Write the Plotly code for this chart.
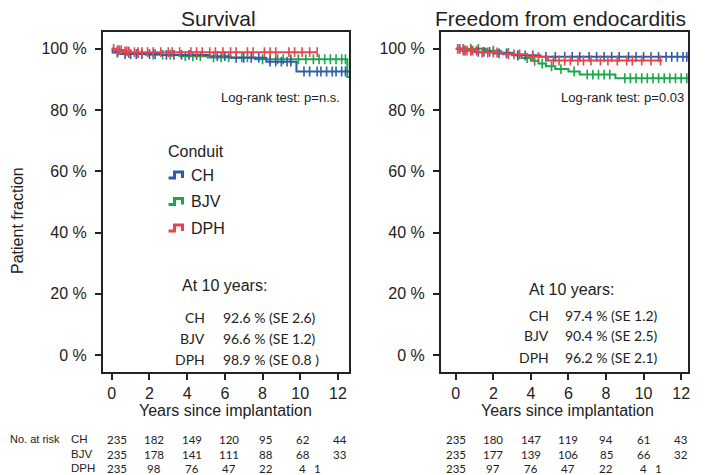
import plotly.graph_objects as go

# ---- data ----
groups = ["CH", "BJV", "DPH"]
colors = {"CH": "#2f5caa", "BJV": "#1aa64b", "DPH": "#e8444e"}

# survival: step times and level after each step (%), last censor / end time
surv_CH_t = [0, 0.05, 0.4, 2.6, 5.2, 6.3, 8.2, 9.8]
surv_CH_s = [100, 98.8, 98.3, 98.0, 97.6, 97.1, 95.8, 92.6]
surv_CH_end = 12.6
surv_BJV_t = [0, 0.05, 0.6, 1.8, 3.6, 5.1, 7.6, 12.5]
surv_BJV_s = [100, 99.2, 98.6, 98.1, 97.6, 97.2, 96.6, 90.8]
surv_BJV_end = 12.6
surv_DPH_t = [0, 0.2, 0.6, 1.0]
surv_DPH_s = [100, 99.6, 99.2, 98.9]
surv_DPH_end = 10.9

surv_CH_cens = [0.3, 0.7, 1.0, 1.3, 1.6, 2.0, 2.3, 2.9, 3.3, 3.7, 4.1, 4.5, 5.6, 6.0, 6.6, 7.0, 7.4, 7.8,
                8.4, 8.7, 9.0, 9.3, 9.5, 10.2, 10.5, 10.9, 11.1, 11.4, 11.7, 11.9, 12.2, 12.4]
surv_BJV_cens = [0.3, 0.9, 1.4, 2.2, 2.7, 3.1, 3.9, 4.3, 4.7, 5.4, 5.8, 6.2, 6.9, 7.2, 8.0, 8.4, 8.8, 9.1,
                 9.5, 9.9, 10.3, 10.7, 11.0, 11.3, 11.6, 11.9, 12.2, 12.4]
surv_DPH_cens = [0.1, 0.3, 0.4, 0.5, 0.7, 0.8, 0.9, 1.2, 1.4, 1.6, 1.9, 2.2, 2.6, 3.0, 3.2, 3.6, 4.2, 4.5,
                 4.8, 5.2, 5.5, 5.9, 6.3, 6.6, 7.2, 7.5, 8.1, 8.4, 8.7, 9.4, 9.7, 10.1, 10.5, 10.9]

# freedom from endocarditis
endo_CH_t = [0, 0.3, 1.0, 2.0, 3.0, 4.5]
endo_CH_s = [100, 99.5, 99.0, 98.5, 97.9, 97.4]
endo_CH_end = 12.4
endo_BJV_t = [0, 1.6, 2.4, 3.1, 3.5, 4.0, 4.4, 4.8, 5.3, 6.0, 6.6, 8.5]
endo_BJV_s = [100, 99.4, 98.7, 97.9, 97.0, 96.1, 95.2, 94.3, 93.4, 92.6, 91.6, 90.4]
endo_BJV_end = 12.4
endo_DPH_t = [0, 0.3, 1.2, 2.5, 3.8, 4.9]
endo_DPH_s = [100, 99.4, 98.8, 98.2, 97.4, 96.2]
endo_DPH_end = 11.0

endo_CH_cens = [0.2, 0.5, 0.8, 1.2, 1.5, 1.8, 2.3, 2.7, 3.3, 3.7, 4.1, 4.8, 5.3, 5.8, 6.2, 6.6, 7.1, 7.5,
                7.9, 8.3, 8.7, 9.2, 9.6, 10.0, 10.4, 10.8, 11.2, 11.5, 11.8, 12.1, 12.3]
endo_BJV_cens = [0.4, 0.8, 1.2, 2.0, 2.8, 3.3, 3.8, 4.2, 4.6, 5.1, 5.6, 6.3, 7.0, 7.3, 7.6, 7.9, 8.2,
                 9.0, 9.3, 9.6, 9.9, 10.2, 10.5, 10.8, 11.1, 11.4, 11.7, 12.0, 12.3]
endo_DPH_cens = [0.1, 0.2, 0.4, 0.5, 0.6, 0.8, 0.9, 1.1, 1.4, 1.7, 2.0, 2.2, 2.8, 3.1, 3.4, 4.1, 4.4,
                 5.2, 5.5, 5.8, 6.1, 6.5, 6.8, 7.2, 7.7, 8.1, 8.6, 9.1, 9.4, 9.9, 10.4, 10.9]

at10_surv = {"CH": "92.6 % (SE 2.6)", "BJV": "96.6 % (SE 1.2)", "DPH": "98.9 % (SE 0.8 )"}
at10_endo = {"CH": "97.4 % (SE 1.2)", "BJV": "90.4 % (SE 2.5)", "DPH": "96.2 % (SE 2.1)"}

risk_times = [0, 2, 4, 6, 8, 10, 12]
risk_surv = {"CH": [235, 182, 149, 120, 95, 62, 44],
             "BJV": [235, 178, 141, 111, 88, 68, 33],
             "DPH": [235, 98, 76, 47, 22, 4, 1]}
risk_endo = {"CH": [235, 180, 147, 119, 94, 61, 43],
             "BJV": [235, 177, 139, 106, 85, 66, 32],
             "DPH": [235, 97, 76, 47, 22, 4, 1]}

panels = [
    dict(xa="x", ya="y", rx="x3", title="Survival", logrank="Log-rank test: p=n.s.",
         curves={"CH": (surv_CH_t, surv_CH_s, surv_CH_end, surv_CH_cens),
                 "BJV": (surv_BJV_t, surv_BJV_s, surv_BJV_end, surv_BJV_cens),
                 "DPH": (surv_DPH_t, surv_DPH_s, surv_DPH_end, surv_DPH_cens)},
         at10=at10_surv, risk=risk_surv),
    dict(xa="x2", ya="y2", rx="x2", title="Freedom from endocarditis", logrank="Log-rank test: p=0.03",
         curves={"CH": (endo_CH_t, endo_CH_s, endo_CH_end, endo_CH_cens),
                 "BJV": (endo_BJV_t, endo_BJV_s, endo_BJV_end, endo_BJV_cens),
                 "DPH": (endo_DPH_t, endo_DPH_s, endo_DPH_end, endo_DPH_cens)},
         at10=at10_endo, risk=risk_endo),
]

# page has an 8px body margin, so the figure is drawn 8px in from the corner
OFF = 8
W, H = 714 - OFF, 475 - OFF
def px(x): return (x - OFF) / W
def py(y): return 1 - (y - OFF) / H

def level_at(ts, ss, t):
    v = ss[0]
    for a, b in zip(ts, ss):
        if a <= t:
            v = b
    return v

fig = go.Figure()
FONT = "Liberation Sans, Arial, sans-serif"
NUMFONT = "Lato, sans-serif"

for p in panels:
    for g in ["BJV", "CH", "DPH"]:
        ts, ss, end, cens = p["curves"][g]
        fig.add_trace(go.Scatter(x=ts + [end], y=ss + [ss[-1]], mode="lines",
                                 line=dict(color=colors[g], width=2, shape="hv"),
                                 xaxis=p["xa"], yaxis=p["ya"], showlegend=False, hoverinfo="skip"))
        fig.add_trace(go.Scatter(x=cens, y=[level_at(ts, ss, c) for c in cens], mode="markers",
                                 marker=dict(symbol="line-ns", size=7,
                                             line=dict(color=colors[g], width=1.6)),
                                 xaxis=p["xa"], yaxis=p["ya"], showlegend=False, hoverinfo="skip"))

axis_common = dict(showline=True, mirror=True, linecolor="#222", linewidth=1.5,
                   ticks="outside", ticklen=6, tickwidth=1.5, tickcolor="#222",
                   showgrid=False, zeroline=False, tickfont=dict(family=FONT, size=16, color="#222"))
yvals = [0, 20, 40, 60, 80, 100]
ytext = [f"{v} %" for v in yvals]
ydom = [py(372), py(32)]

fig.update_layout(
    width=W, height=H, margin=dict(l=0, r=0, t=0, b=0),
    paper_bgcolor="white", plot_bgcolor="white", showlegend=False,
    xaxis=dict(domain=[px(103), px(350)], range=[-0.48, 12.59], tickvals=risk_times,
               anchor="y", **axis_common),
    yaxis=dict(domain=ydom, range=[-5.5, 105.5], tickvals=yvals, ticktext=ytext,
               anchor="x", ticklabelstandoff=5, **axis_common),
    xaxis2=dict(domain=[px(442), px(690)], range=[-0.8, 12.37], tickvals=risk_times,
                anchor="y2", **axis_common),
    yaxis2=dict(domain=ydom, range=[-5.5, 105.5], tickvals=yvals, ticktext=ytext,
                anchor="x2", ticklabelstandoff=5, **axis_common),
    # hidden scale for the left "No. at risk" columns
    xaxis3=dict(domain=[px(80), px(350)], range=[-0.79, 12.49], visible=False,
                anchor="y", overlaying="x"),
)

ann = []
shapes = []
txt = "#222"

def note(text, x, y, size, xanchor="center", family=FONT, **kw):
    ann.append(dict(text=text, x=px(x), y=py(y), xref="paper", yref="paper", xanchor=xanchor,
                    yanchor="middle", showarrow=False, font=dict(family=family, size=size, color=txt), **kw))

# titles, axis titles
for p, cx in zip(panels, [219, 562]):
    note(p["title"], cx, 19, 21)
for cx in [226, 569]:
    note("Years since implantation", cx, 410, 16)
note("Patient fraction", 17, 220, 16, textangle=-90)
# log-rank
for p, rx in zip(panels, [343, 688]):
    note(p["logrank"], rx, 97, 13, xanchor="right")

# legend
note("Conduit", 166, 151, 16, xanchor="left")
for i, g in enumerate(groups):
    yc = 175 + i * 26.5
    note(g, 190, yc, 16, xanchor="left")
    x0 = 169
    path = (f"M {px(x0)},{py(yc + 3)} L {px(x0 + 6)},{py(yc + 3)} L {px(x0 + 6)},{py(yc - 3)} "
            f"L {px(x0 + 14)},{py(yc - 3)} L {px(x0 + 14)},{py(yc + 3)}")
    shapes.append(dict(type="path", path=path, xref="paper", yref="paper",
                       line=dict(color=colors[g], width=3)))

# at 10 years
for p, (hx, lx, vx, y0, ys) in zip(panels, [(180, 208, 222, 285, [317, 338, 359]),
                                           (528, 553, 565, 289, [315, 335, 357])]):
    note("At 10 years:", hx, y0, 16, xanchor="left")
    for g, yy in zip(groups, ys):
        note(g, lx, yy, 14, xanchor="right", family=NUMFONT)
        note(p["at10"][g], vx, yy, 14, xanchor="left", family=NUMFONT)

# numbers at risk
row_y = [439, 454, 468]
note("No. at risk", 8, row_y[0], 11, xanchor="left")
for g, yy in zip(groups, row_y):
    note(g, 69, yy, 11.5, xanchor="left")
for p in panels:
    for g, yy in zip(groups, row_y):
        vals = p["risk"][g]
        for k, (t, n) in enumerate(zip(risk_times, vals)):
            xpos = t
            if g == "DPH" and k == len(vals) - 1:
                xpos = risk_times[-2] + 0.8
            ann.append(dict(text=str(n), x=xpos, y=py(yy), xref=p["rx"], yref="paper",
                            xanchor="center", yanchor="middle", showarrow=False,
                            font=dict(family=NUMFONT, size=11.5, color=txt)))

fig.update_layout(annotations=ann, shapes=shapes)
fig.write_html("out.html")
